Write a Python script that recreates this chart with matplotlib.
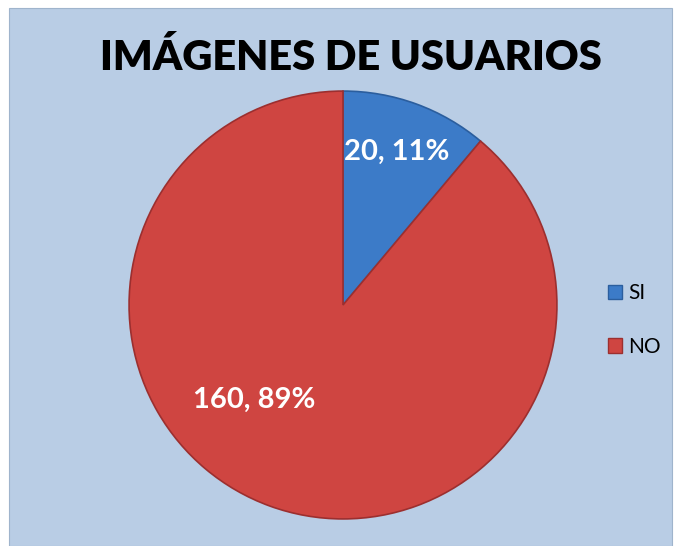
import matplotlib
matplotlib.use('Agg')
import matplotlib.pyplot as plt
from matplotlib.patches import Rectangle, Patch

labels = ['SI', 'NO']
values = [20, 160]
colors = ['#3c7bc8', '#cf4541']
edge_colors = ['#2b5e9e', '#9c2f2f']
title = 'IMÁGENES DE USUARIOS'

W, H = 680, 546
fig = plt.figure(figsize=(W / 100, H / 100), dpi=100)
fig.patch.set_facecolor('white')

# chart area background
fig.patches.append(Rectangle((9 / W, 0), (672 - 9) / W, (546 - 8) / H,
                             transform=fig.transFigure, facecolor='#b9cde5',
                             edgecolor='#9fb4cc', linewidth=0.8, zorder=-5))

fig.text(351 / W, 1 - 58 / H, title, ha='center', va='center',
         fontsize=30, fontweight='heavy', family='Lato', color='black')

ax = fig.add_axes([128 / W, (H - 520) / H, 430 / W, 430 / H])
ax.set_zorder(2)
total = sum(values)
wedges, _ = ax.pie(values, colors=colors, startangle=90, counterclock=False,
                   wedgeprops=dict(linewidth=1.2))
for w, ec in zip(wedges, edge_colors):
    w.set_edgecolor(ec)
ax.set_xlim(-1.005, 1.005)
ax.set_ylim(-1.005, 1.005)
ax.set_aspect('equal')
ax.axis('off')

label_pos = [(397, 152), (254, 400)]
for v, (px, py) in zip(values, label_pos):
    pct = round(v / total * 100)
    t = fig.text(px / W, 1 - py / H, f'{v}, {pct}%', ha='center', va='center',
                 fontsize=21, fontweight='bold', family='Lato', color='white')
    t.set_zorder(5)

handles = [Patch(facecolor=c, edgecolor=ec) for c, ec in zip(colors, edge_colors)]
fig.legend(handles, labels, loc='center left', bbox_to_anchor=(589 / W, 1 - 320 / H),
           frameon=False, handlelength=0.7, handleheight=0.7, handletextpad=0.3,
           labelspacing=1.6, prop=dict(family='Lato', size=15))

fig.savefig('out.png', dpi=100)
